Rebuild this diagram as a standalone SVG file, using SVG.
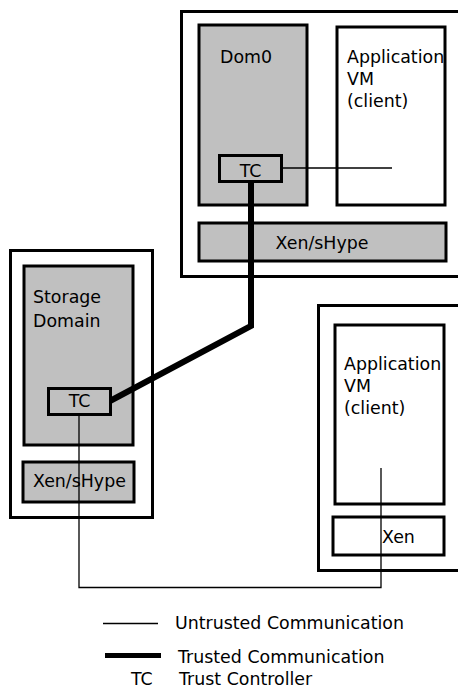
<svg xmlns="http://www.w3.org/2000/svg" width="458" height="689" viewBox="0 0 458 689">
<style>
.box{fill:#ffffff;stroke:#000;stroke-width:3}
.gray{fill:#c0c0c0;stroke:#000;stroke-width:3}
.t{font-family:"DejaVu Sans",Verdana,sans-serif;font-size:17.4px;fill:#000}
.thin{fill:none;stroke:#000;stroke-width:1.3}
.thick{fill:none;stroke:#000;stroke-width:6;stroke-linejoin:miter}
</style>
<rect width="458" height="689" fill="#fff"/>
<g id="host1">
<rect class="box" x="181.5" y="11.5" width="290" height="265"/>
</g>
<g id="dom0">
<rect class="gray" x="199" y="25" width="108" height="180"/>
<text class="t" x="220" y="63">Dom0</text>
</g>
<g id="appvm1">
<rect class="box" x="337" y="27" width="108" height="178"/>
<text class="t" x="347" y="63">Application</text>
<text class="t" x="347" y="85">VM</text>
<text class="t" x="347" y="107">(client)</text>
</g>
<g id="xen1">
<rect class="gray" x="199" y="223" width="247" height="38"/>
<text class="t" x="322" y="248.5" text-anchor="middle">Xen/sHype</text>
</g>
<g id="host2">
<rect class="box" x="10.5" y="250.5" width="142" height="267"/>
</g>
<g id="storage">
<rect class="gray" x="24" y="266" width="109" height="179"/>
<text class="t" x="33" y="303">Storage</text>
<text class="t" x="33" y="327">Domain</text>
</g>
<g id="xen2">
<rect class="gray" x="23" y="462" width="111" height="40"/>
<text class="t" x="33" y="487">Xen/sHype</text>
</g>
<g id="host3">
<rect class="box" x="318.5" y="305.5" width="150" height="265"/>
</g>
<g id="appvm2">
<rect class="box" x="335" y="325" width="109" height="179"/>
<text class="t" x="344" y="370">Application</text>
<text class="t" x="344" y="392">VM</text>
<text class="t" x="344" y="414">(client)</text>
</g>
<g id="xen3">
<rect class="box" x="333" y="517" width="111" height="38"/>
<text class="t" x="382" y="543">Xen</text>
</g>
<g id="connectors">
<line class="thin" x1="282" y1="168" x2="392" y2="168"/>
<polyline class="thin" points="79,414 79,587.5 381,587.5 381,468"/>
<polyline class="thick" points="251,181 251,326 110,401"/>
</g>
<g id="tc1">
<rect class="gray" x="219.5" y="155.5" width="62" height="26"/>
<text class="t" x="250.5" y="176.5" text-anchor="middle">TC</text>
</g>
<g id="tc2">
<rect class="gray" x="48.5" y="388.5" width="62" height="26"/>
<text class="t" x="79.5" y="407" text-anchor="middle">TC</text>
</g>
<g id="legend">
<line class="thin" x1="103" y1="623.5" x2="158" y2="623.5"/>
<text class="t" x="175" y="629">Untrusted Communication</text>
<line x1="105" y1="655.5" x2="161" y2="655.5" stroke="#000" stroke-width="5"/>
<text class="t" x="178" y="663">Trusted Communication</text>
<text class="t" x="131" y="685">TC</text>
<text class="t" x="179" y="685">Trust Controller</text>
</g>
</svg>
